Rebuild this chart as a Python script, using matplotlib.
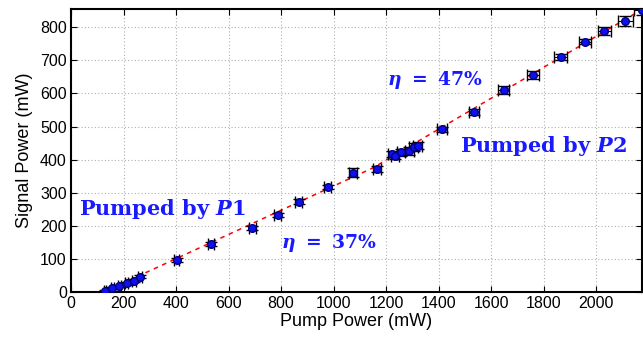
import matplotlib
matplotlib.use("Agg")
import matplotlib.pyplot as plt
import numpy as np

pump = [130, 157, 184, 212, 240, 263, 403, 533, 691, 787, 867, 978, 1073, 1164,
        1224, 1234, 1257, 1289, 1305, 1320, 1412, 1535, 1648, 1759, 1865, 1958, 2032, 2112, 2174]
signal = [3, 11, 19, 26, 34, 46, 97, 145, 194, 233, 273, 317, 360, 372,
          416, 411, 422, 427, 439, 442, 491, 544, 610, 655, 710, 756, 789, 819, 852]
pump_err = [4, 5, 5, 6, 6, 7, 10, 11, 12, 12, 13, 14, 15, 15,
            16, 16, 17, 18, 18, 18, 19, 20, 21, 22, 24, 24, 26, 28, 30]
signal_err = [2, 3, 3, 4, 4, 5, 6, 6, 6, 7, 7, 7, 14, 9,
              9, 9, 10, 12, 12, 10, 8, 10, 13, 12, 8, 8, 12, 14, 14]
fit_x = [125, 1150, 2180]
fit_y = [0, 375, 856]

plt.rcParams['font.family'] = ['Liberation Sans', 'DejaVu Sans']
plt.rcParams['mathtext.fontset'] = 'custom'
plt.rcParams['mathtext.rm'] = 'DejaVu Serif:bold'
plt.rcParams['mathtext.bf'] = 'DejaVu Serif:bold'
plt.rcParams['mathtext.it'] = 'DejaVu Serif:bold:italic'

fig = plt.figure(figsize=(6.43, 3.39), dpi=100)
ax = fig.add_axes([71/643, 47/339, 571/643, 283/339])

ax.plot(fit_x, fit_y, color='red', ls=(0, (3, 3)), lw=1.1, zorder=2)
ax.errorbar(pump, signal, xerr=pump_err, yerr=signal_err, fmt='o', ms=5.5,
            mfc='#1010ee', mec='#000080', mew=1.0, ecolor='black', elinewidth=0.8,
            capsize=4, capthick=0.8, zorder=3)

ax.set_xlim(0, 2175)
ax.set_ylim(0, 855)
ax.set_xticks(np.arange(0, 2001, 200))
ax.set_yticks(np.arange(0, 801, 100))
ax.grid(True, color='#b0b0b0', ls=(0, (1, 2)), lw=0.8)
ax.set_axisbelow(True)
ax.tick_params(direction='in', length=4, labelsize=11.5, top=True, right=True, pad=3)
for s in ax.spines.values():
    s.set_linewidth(1.5)
ax.set_xlabel('Pump Power (mW)', fontsize=13, labelpad=1)
ax.set_ylabel('Signal Power (mW)', fontsize=13, labelpad=5)

tc = '#1a1aff'
ax.text(30, 250, r'$\mathrm{Pumped\ by\ }P\mathrm{1}$', color=tc, fontsize=15, va='center')
ax.text(1480, 442, r'$\mathrm{Pumped\ by\ }P\mathrm{2}$', color=tc, fontsize=15, va='center')
ax.text(800, 148, r'$\eta\ \mathrm{=\ 37\%}$', color=tc, fontsize=13.5, va='center')
ax.text(1205, 640, r'$\eta\ \mathrm{=\ 47\%}$', color=tc, fontsize=13.5, va='center')

fig.savefig('out.png', dpi=100)
